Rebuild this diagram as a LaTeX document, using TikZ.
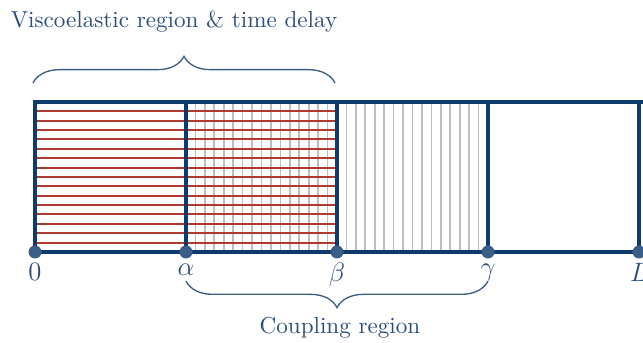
\documentclass[tikz,border=0pt]{standalone}
\usetikzlibrary{decorations.pathreplacing}
\definecolor{navy}{HTML}{0F3B6C}
\definecolor{dotblue}{HTML}{3A5E88}
\definecolor{txtblue}{HTML}{2A4D7C}
\definecolor{hred}{HTML}{B03A2E}
\definecolor{hgray}{HTML}{BEBEBE}
\tikzset{
  frame/.style={draw=navy, line width=1.8pt},
  redline/.style={draw=hred, line width=0.9pt},
  grayline/.style={draw=hgray, line width=0.75pt},
  pt/.style={fill=dotblue},
  lbl/.style={text=txtblue, anchor=base, inner sep=0pt, font=\fontsize{10.4}{12}\selectfont},
  ptlbl/.style={text=txtblue, anchor=north, inner sep=0pt, font=\fontsize{12.4}{14}\selectfont},
  bracestyle/.style={draw=dotblue, line width=0.6pt, decorate, decoration={brace, amplitude=12pt}},
}
\begin{document}
\begin{tikzpicture}[x=0.45pt,y=-0.45pt]
\useasboundingbox (0,0) rectangle (643,343);
% coordinates
\coordinate (b0) at (35,252);
\coordinate (b1) at (186,252);
\coordinate (b2) at (337,252);
\coordinate (b3) at (488,252);
\coordinate (b4) at (639,252);
\coordinate (t0) at (35,102);
\coordinate (t1) at (186,102);
\coordinate (t2) at (337,102);
\coordinate (t3) at (488,102);
\coordinate (t4) at (639,102);
\coordinate (tend) at (660,102);
\coordinate (bend) at (660,252);
% gray vertical hatching alpha..gamma
\foreach \k in {1,...,31}{
  \draw[grayline] ({186+9.4375*\k},102) -- ({186+9.4375*\k},252);
}
% red horizontal hatching 0..beta
\foreach \k in {1,...,15}{
  \draw[redline] (35,{102+9.375*\k}) -- (337,{102+9.375*\k});
}
% frame
\draw[frame] (tend) -- (t0) -- (b0) -- (bend);
\foreach \i in {1,2,3,4}{ \draw[frame] (t\i) -- (b\i); }
% dots
\foreach \i in {0,...,4}{ \fill[pt] (b\i) circle (6.5); }
% labels
\node[ptlbl] (l0) at (35,263) {$0$};
\node[ptlbl] (l1) at (186,264) {$\alpha$};
\node[ptlbl] (l2) at (337,263) {$\beta$};
\node[ptlbl] (l3) at (488,264) {$\gamma$};
\node[ptlbl] (l4) at (639,263) {$L$};
% braces
\coordinate (ba) at (33,83);
\coordinate (bb) at (335,83);
\draw[bracestyle] (ba) -- (bb);
\coordinate (bc) at (488,281);
\coordinate (bd) at (186,281);
\draw[bracestyle] (bc) -- (bd);
\node[lbl] (visc) at (174,28) {Viscoelastic region \& time delay};
\node[lbl] (coup) at (340,334) {Coupling region};
\end{tikzpicture}
\end{document}
